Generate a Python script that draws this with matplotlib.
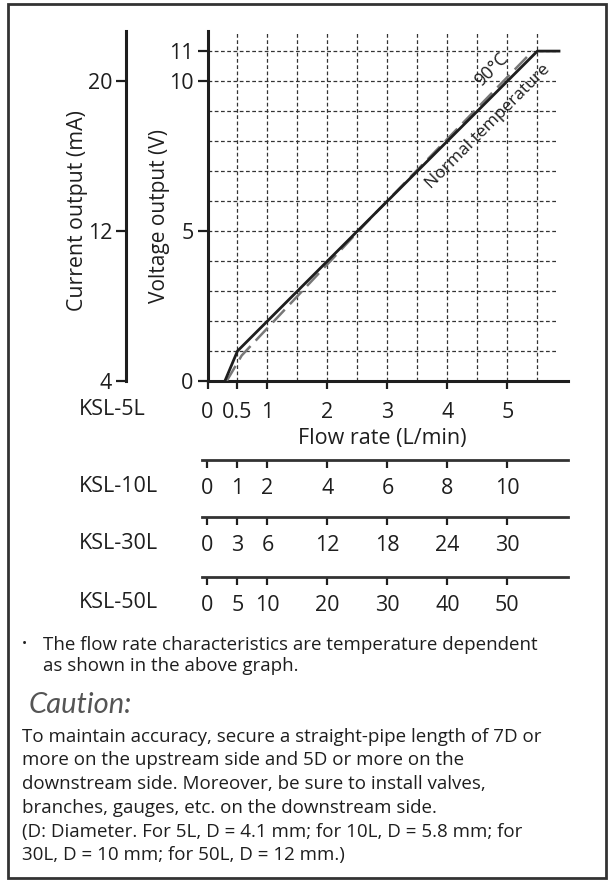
import numpy as np
import matplotlib
matplotlib.use("Agg")
import matplotlib.pyplot as plt
from matplotlib.patches import Rectangle

plt.rcParams["font.family"] = ["Open Sans", "DejaVu Sans"]

# ── data ─────────────────────────────────────────────────────────
normal_x = [0.29, 0.5, 5.5, 5.86]
normal_y = [0.0, 1.0, 11.0, 11.0]
hot_x    = [0.32, 0.57, 2.8, 5.42]
hot_y    = [0.0, 0.85, 5.6, 11.0]

volt_ticks = [0, 5, 10, 11]
curr_ticks = [4, 12, 20]
flow_pos   = [0, 0.5, 1, 2, 3, 4, 5]
main_labels = ["0", "0.5", "1", "2", "3", "4", "5"]

models = ["KSL-10L", "KSL-30L", "KSL-50L"]
model_labels = [
    ["0", "1", "2", "4", "6", "8", "10"],
    ["0", "3", "6", "12", "18", "24", "30"],
    ["0", "5", "10", "20", "30", "40", "50"],
]

INK   = "#1e1e1e"
GRID  = "#333333"
DASH  = "#777777"
W, H  = 612, 880
FS    = 15.5   # tick / scale text

def fx(px): return px / W
def fy(py): return 1 - py / H

fig = plt.figure(figsize=(W / 100, H / 100), dpi=100)

# outer frame
fig.add_artist(Rectangle((fx(8), fy(878)), fx(606) - fx(8), fy(4) - fy(878),
                         transform=fig.transFigure, fill=False,
                         edgecolor="#333333", linewidth=2))

# ── main chart ───────────────────────────────────────────────────
L, R, T, B = 207.5, 568, 31, 381
ax = fig.add_axes([fx(L), fy(B), fx(R) - fx(L), fy(T) - fy(B)])
ax.set_xlim(0, 6.01)
ax.set_ylim(0, 11.67)
for s in ["top", "right"]:
    ax.spines[s].set_visible(False)
for s in ["left", "bottom"]:
    ax.spines[s].set_linewidth(2.2)
    ax.spines[s].set_color(INK)

# grid
for gx in np.arange(0.5, 5.51, 0.5):
    ax.plot([gx, gx], [0, 11.67], color=GRID, lw=0.9, ls=(0, (3, 2)), zorder=1)
for gy in range(1, 12):
    ax.plot([0, 5.84], [gy, gy], color=GRID, lw=0.9, ls=(0, (3, 2)), zorder=1)

ax.plot(hot_x, hot_y, color=DASH, lw=1.8, ls=(0, (7, 3)), zorder=3)
ax.plot(normal_x, normal_y, color=INK, lw=2, zorder=4)

ax.text(4.74, 10.37, "90°C", rotation=45, ha="center", va="center",
        fontsize=13, color=INK)
ax.text(4.68, 8.48, "Normal temperature", rotation=45, ha="center", va="center",
        fontsize=12.5, color=INK)

ax.set_yticks(volt_ticks)
ax.set_yticklabels([str(v) for v in volt_ticks], fontsize=FS, color=INK)
ax.tick_params(axis="y", direction="out", length=7, width=1.6, pad=3, colors=INK)
ax.set_xticks(flow_pos)
ax.set_xticklabels(main_labels, fontsize=FS, color=INK)
ax.tick_params(axis="x", direction="out", length=6, width=1.6, pad=9, colors=INK)

# current output axis
sec = ax.secondary_yaxis((126 - L) / (R - L),
                         functions=(lambda v: 4 + 1.6 * v, lambda i: (i - 4) / 1.6))
sec.set_yticks(curr_ticks)
sec.set_yticklabels([str(c) for c in curr_ticks], fontsize=FS, color=INK)
sec.tick_params(direction="out", length=7, width=1.6, pad=3, colors=INK)
sec.spines["left"].set_linewidth(2.2)
sec.spines["left"].set_color(INK)

fig.text(fx(160), fy(216), "Voltage output (V)", rotation=90,
         ha="center", va="center", fontsize=15, color=INK)
fig.text(fx(77), fy(211), "Current output (mA)", rotation=90,
         ha="center", va="center", fontsize=15.3, color=INK)
fig.text(fx(382), fy(438), "Flow rate (L/min)", ha="center", va="center",
         fontsize=FS, color=INK)
fig.text(fx(79), fy(409), "KSL-5L", ha="left", va="center", fontsize=FS, color=INK)

# ── model scales ─────────────────────────────────────────────────
row_lines = [460, 517.3, 576.7]
for name, labels, ly in zip(models, model_labels, row_lines):
    rax = fig.add_axes([fx(201.5), fy(ly), fx(568) - fx(201.5), 0.0001])
    rax.set_xlim(-0.1, 6.01)
    rax.set_ylim(0, 1)
    for s in ["top", "right", "left"]:
        rax.spines[s].set_visible(False)
    rax.spines["bottom"].set_linewidth(2)
    rax.spines["bottom"].set_color("#333333")
    rax.set_yticks([])
    rax.set_xticks(flow_pos)
    rax.set_xticklabels(labels, fontsize=FS, color=INK)
    rax.tick_params(axis="x", direction="out", length=6, width=1.6, pad=7, colors=INK)
    fig.text(fx(79), fy(ly + 26), name, ha="left", va="center", fontsize=FS, color=INK)

# ── notes ────────────────────────────────────────────────────────
fig.text(fx(22), fy(645), "•", ha="left", va="center", fontsize=10, color=INK)
fig.text(fx(43), fy(645), "The flow rate characteristics are temperature dependent",
         ha="left", va="center", fontsize=13.5, color=INK)
fig.text(fx(43), fy(666), "as shown in the above graph.",
         ha="left", va="center", fontsize=13.5, color=INK)
fig.text(fx(29), fy(705), "Caution:", ha="left", va="center", fontsize=21,
         style="italic", family=["Lato", "DejaVu Sans"], color="#555555")

caution = [
    "To maintain accuracy, secure a straight-pipe length of 7D or",
    "more on the upstream side and 5D or more on the",
    "downstream side. Moreover, be sure to install valves,",
    "branches, gauges, etc. on the downstream side.",
    "(D: Diameter. For 5L, D = 4.1 mm; for 10L, D = 5.8 mm; for",
    "30L, D = 10 mm; for 50L, D = 12 mm.)",
]
for i, line in enumerate(caution):
    fig.text(fx(22), fy(736.7 + i * 23.7), line, ha="left", va="center",
             fontsize=13.5, color=INK)

fig.savefig("out.png", dpi=100, facecolor="white")
